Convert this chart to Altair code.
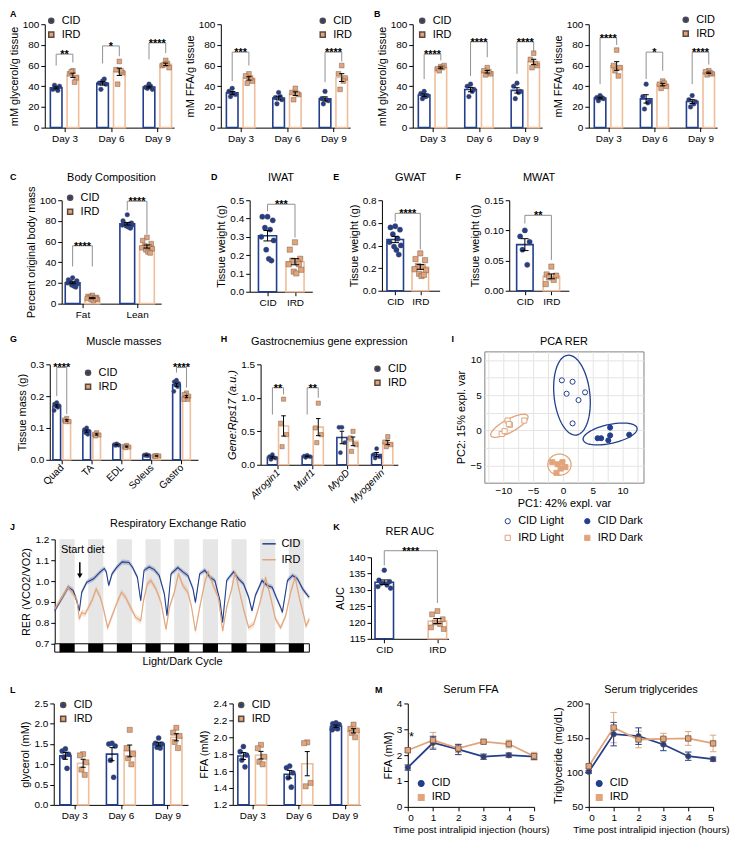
import altair as alt
import numpy as np
import pandas as pd

FONT = "Liberation Sans"
FS = 10
NAVY = "#233F8C"
TAN = "#E2A47A"
TAN_BAR = "#F0BE9A"
BRK = "#8F8F8F"
GROUPS = ["CID", "IRD"]
DAYS = ["Day 3", "Day 6", "Day 9"]

# ---------------- data ----------------
A_gly_cid = [[38, 37, 40, 41, 36], [45, 43, 42, 37, 47], [42, 39, 37, 38, 40]]
A_gly_ird = [[55, 52, 48, 54, 44], [64, 56, 53, 42, 55], [65, 60, 58, 61, 62]]
A_gly_sig = [(0, 71, 60, 63, "**"), (1, 79, 62, 69, "*"), (2, 82, 66, 72, "****")]
A_ffa_cid = [[38, 35, 32, 30, 33], [34, 29, 27, 23, 30], [35, 28, 26, 23, 27]]
A_ffa_ird = [[52, 50, 45, 43, 48], [38, 34, 32, 27, 33], [60, 52, 48, 37, 45]]
A_ffa_sig = [(0, 73, 45, 60, "***"), (2, 73, 44, 64, "****")]

B_gly_cid = [[35, 33, 31, 28, 30], [42, 40, 37, 30, 35], [43, 40, 35, 28, 34]]
B_gly_ird = [[59, 57, 60, 55, 58], [58, 55, 52, 51, 54], [72, 66, 60, 58, 62]]
B_gly_sig = [(0, 71, 47, 65, "****"), (1, 83, 50, 68, "****"), (2, 83, 52, 73, "****")]
B_ffa_cid = [[31, 29, 28, 26, 29], [42, 30, 25, 18, 24], [31, 27, 25, 20, 23]]
B_ffa_ird = [[75, 60, 58, 55, 50], [45, 42, 40, 38, 43], [55, 54, 52, 51, 53]]
B_ffa_sig = [(0, 87, 42, 80, "****"), (1, 73, 47, 55, "*"), (2, 73, 42, 61, "****")]

C_names = ["Fat", "Lean"]
C_cid = [[25, 23, 22, 21, 20, 20, 19, 18, 17, 16], [86, 80, 78, 77, 77, 76, 76, 75, 74, 73]]
C_ird = [[8, 7, 6, 6, 5, 5, 4, 4, 3, 5], [64, 61, 58, 56, 55, 54, 53, 52, 50, 49]]
C_sig = [(0, 56, 36, 36, "****"), (1, 99, 90, 67, "****")]

D_cid = [0.41, 0.41, 0.39, 0.35, 0.34, 0.30, 0.28, 0.23, 0.18, 0.17]
D_ird = [0.27, 0.23, 0.18, 0.17, 0.16, 0.15, 0.12, 0.11, 0.10, 0.15]
D_sig = [(0, 0.478, 0.44, 0.296, "***")]
E_cid = [0.57, 0.56, 0.54, 0.50, 0.46, 0.43, 0.40, 0.39, 0.36, 0.32]
E_ird = [0.33, 0.28, 0.27, 0.22, 0.21, 0.19, 0.18, 0.15, 0.13, 0.14]
E_sig = [(0, 0.684, 0.61, 0.364, "****")]
F_cid = [0.100, 0.090, 0.081, 0.068, 0.043]
F_ird = [0.040, 0.027, 0.025, 0.022, 0.018, 0.011]
F_sig = [(0, 0.125, 0.1115, 0.051, "**")]

G_names = ["Quad", "TA", "EDL", "Soleus", "Gastro"]
G_cid = [[0.18, 0.175, 0.17, 0.17, 0.165, 0.155], [0.10, 0.095, 0.09, 0.085, 0.08],
         [0.05, 0.048, 0.046, 0.045, 0.047], [0.016, 0.015, 0.014, 0.014, 0.013],
         [0.25, 0.245, 0.24, 0.235, 0.23, 0.215]]
G_ird = [[0.13, 0.125, 0.12, 0.12], [0.085, 0.08, 0.078, 0.075], [0.045, 0.042, 0.04, 0.038],
         [0.013, 0.012, 0.012, 0.011], [0.21, 0.205, 0.2, 0.195, 0.19, 0.19]]
G_sig = [(0, 0.29, 0.2, 0.144, "****"), (4, 0.29, 0.274, 0.227, "****")]

H_names = ["Atrogin1", "Murf1", "MyoD", "Myogenin"]
H_cid = [[0.15, 0.12, 0.10, 0.08], [0.14, 0.13, 0.12, 0.11], [0.56, 0.56, 0.33, 0.18], [0.24, 0.15, 0.12, 0.10]]
H_ird = [[0.98, 0.62, 0.45, 0.27], [0.92, 0.55, 0.45, 0.33], [0.50, 0.40, 0.30, 0.20], [0.42, 0.34, 0.30, 0.27]]
H_sig = [(0, 1.15, 0.75, 1.05, "**"), (1, 1.15, 0.75, 1.0, "**")]

I_groups = ["CID Light", "IRD Light", "CID Dark", "IRD Dark"]
I_pc1 = {"CID Light": [-0.2, 1.6, 0.6, 2.6, 3.7, 1.6],
         "CID Dark": [5.8, 6.4, 7.6, 7.9, 7.9, 11.1],
         "IRD Light": [-10.3, -9.8, -9.3, -8.9, -6.5, -9.1],
         "IRD Dark": [-1.8, -0.9, -0.1, 0.4, -0.4, -1.1]}
I_pc2 = {"CID Light": [7.1, 6.9, 5.2, 4.3, 5.4, 1.0],
         "CID Dark": [-1.1, -1.1, -1.4, 0.4, -0.7, -0.6],
         "IRD Light": [-0.5, -0.1, 1.4, 0.8, 1.4, 0.9],
         "IRD Dark": [-4.5, -4.8, -4.5, -5.2, -5.4, -6.0]}
# ellipse: centre x, centre y, semi-major, semi-minor, angle (deg)
I_ellipse = {"CID Light": (1.5, 5.0, 5.7, 3.0, 98), "CID Dark": (7.9, -0.5, 4.6, 1.35, 10),
             "IRD Light": (-9.0, 0.66, 3.4, 0.95, 24), "IRD Dark": (-0.6, -4.85, 1.95, 1.5, 0)}

J_cid_t = [0, 11.3, 15.5, 18.4, 20.6, 22.6, 26.8, 32.5, 38.1, 41.5, 43.2, 45.2, 48.0, 52.2, 56.5, 62.1,
           65.0, 69.2, 72.0, 74.8, 79.1, 83.3, 87.5, 91.8, 94.0, 97.4, 103.1, 107.3, 111.5, 115.8, 117.8,
           121.4, 125.7, 129.9, 134.1, 138.4, 140.6, 144.0, 149.7, 153.9, 158.1, 162.4, 165.2, 168.0,
           173.6, 177.9, 182.1, 185.5, 189.2, 190.6, 194.9, 199.1, 203.3, 207.6, 211.8, 213.2]
J_cid = [0.858, 0.971, 0.955, 0.906, 0.858, 0.947, 0.995, 1.011, 1.044, 1.060, 1.044, 0.979, 1.035, 1.068,
         1.092, 1.089, 1.068, 1.019, 0.906, 1.052, 1.068, 1.055, 1.027, 0.939, 0.834, 1.035, 1.065, 1.044,
         1.027, 0.963, 0.898, 1.035, 1.052, 1.019, 1.003, 0.906, 0.802, 1.003, 1.044, 1.011, 0.987, 0.923,
         0.858, 0.931, 1.003, 0.979, 0.971, 0.923, 0.874, 0.850, 1.003, 1.027, 1.011, 0.963, 0.931, 0.923]
J_ird_t = [0, 11.3, 18.4, 20.6, 22.6, 25.4, 28.2, 31.1, 34.7, 38.1, 40.9, 44.3, 48.0, 52.2, 55.9, 59.3,
           63.5, 67.8, 72.0, 74.3, 77.6, 80.5, 84.7, 89.0, 93.2, 96.0, 100.2, 103.6, 107.3, 111.5, 114.4,
           117.8, 121.4, 125.7, 128.5, 132.7, 137.0, 140.6, 144.0, 148.2, 151.1, 153.9, 158.1, 162.4,
           166.6, 170.8, 175.1, 176.5, 180.7, 184.9, 189.2, 193.4, 197.6, 201.3, 204.7, 208.9, 210.4, 213.2]
J_ird = [0.866, 0.971, 0.915, 0.818, 0.850, 0.842, 0.874, 0.906, 0.963, 0.923, 0.866, 0.777, 0.834, 0.898,
         0.947, 0.923, 0.874, 0.826, 0.810, 0.906, 0.987, 1.003, 0.963, 0.898, 0.769, 0.874, 0.947, 1.035,
         0.979, 0.947, 0.882, 0.761, 0.874, 0.995, 1.044, 0.979, 0.923, 0.761, 0.874, 0.963, 1.044, 0.971,
         0.866, 0.777, 0.794, 0.874, 0.971, 1.019, 0.923, 0.818, 0.777, 0.834, 0.947, 1.019, 0.923, 0.826,
         0.785, 0.818]
J_sem = {"CID": 0.012, "IRD": 0.015}
J_ticks = [0.7, 0.8, 0.9, 1.0, 1.1, 1.2]
J_dark_start = [4, 28, 52, 76, 100, 124, 148, 172, 196]
J_dark_end = [16.7, 40.7, 64.7, 88.7, 112.7, 136.7, 160.7, 184.7, 208.7]
J_end = 213.2
J_diet_t = 21

K_cid = [136, 133, 132.5, 132, 131.5, 131, 130.5]
K_ird = [123.5, 122.5, 121, 120, 119.5, 118.5, 118]
K_sig = [(0, 142, 137.5, 126, "****")]

L_gly_cid = [[1.38, 1.33, 1.25, 1.18, 0.9], [1.52, 1.5, 1.45, 1.1, 0.68], [1.65, 1.52, 1.5, 1.42, 1.4]]
L_gly_ird = [[1.25, 1.22, 1.05, 0.87, 0.74], [1.85, 1.4, 1.25, 1.15, 1.0], [1.9, 1.78, 1.7, 1.55, 1.4]]
L_ffa_cid = [[1.89, 1.83, 1.79, 1.73, 1.65], [1.66, 1.64, 1.58, 1.52, 1.41], [2.17, 2.16, 2.15, 2.11, 2.10, 2.09]]
L_ffa_ird = [[1.91, 1.87, 1.77, 1.71, 1.68], [1.94, 1.93, 1.46, 1.42], [2.15, 2.1, 2.08, 2.05, 2.0]]

M_t = [0, 1, 2, 3, 4, 5]
M_ffa = {"CID": [1.52, 2.48, 2.22, 1.94, 2.0, 1.94], "IRD": [2.19, 2.58, 2.26, 2.52, 2.43, 1.96]}
M_ffa_err = {"CID": [0.1, 0.25, 0.2, 0.1, 0.08, 0.1], "IRD": [0.08, 0.3, 0.15, 0.08, 0.15, 0.15]}
M_tg = {"CID": [100.8, 155.5, 152.6, 140.5, 123.5, 119.2], "IRD": [109, 165, 147.7, 148.7, 149.2, 142]}
M_tg_err = {"CID": [2, 17, 12, 9, 6, 3], "IRD": [3, 22, 12, 8, 10, 12]}

# ---------------- helpers ----------------
JIT = [0.0, -0.8, 0.8, -0.4, 0.4, -0.95, 0.95, -0.2, 0.2, 0.6]
COLOR_SC = alt.Scale(domain=GROUPS, range=[NAVY, TAN])
SHAPE_SC = alt.Scale(domain=GROUPS, range=["circle", "square"])
IND = dict(color="independent", shape="independent", fill="independent", stroke="independent")


def leg(x, y, **kw):
    base = dict(orient="none", legendX=x, legendY=y, title=None, labelFontSize=FS + 1, symbolSize=26,
                rowPadding=1, padding=0, labelOffset=5)
    base.update(kw)
    return alt.Legend(**base)


def text_layer(txt, x, y, align="left", baseline="top", size=9, bold=True, color="black"):
    return alt.Chart(pd.DataFrame({"t": [txt]})).mark_text(
        align=align, baseline=baseline, fontWeight="bold" if bold else "normal", fontSize=size, color=color
    ).encode(text="t:N", x=alt.value(x), y=alt.value(y))


def extras(letter, letter_xy, title, title_xy, lmark, tmark, xoff, yoff):
    out = []
    if letter:
        out.append(text_layer(letter, letter_xy[0] + xoff, letter_xy[1] + yoff))
    if title:
        out.append(text_layer(title, title_xy[0] + xoff, title_xy[1] + yoff, align="center",
                              baseline="middle", size=FS + 1, bold=False))
    if lmark is not None:   # invisible marker fixing the panel's left edge
        out.append(text_layer(".", lmark + xoff, yoff, color="white"))
    if tmark is not None:   # invisible marker fixing the row's top edge
        out.append(text_layer(".", letter_xy[0] + xoff + 14, tmark + yoff, color="white"))
    return out


def bar_panel(names, cid, ird, width, height, xdom, ydom, yvals, ytitle, half, off=0.18, sigs=(),
              legend_xy=None, title=None, title_y=-22, letter=None, letter_xy=(-38, -15),
              label_angle=0, italic=False, ybase=0.0, yfmt=None, pt_size=22, grouped=True,
              ytitle_italic=False, xoff=0, yoff=0, lmark=None, tmark=None):
    rows, summ = [], []
    n = len(names)
    for i in range(n):
        for g, src in (("CID", cid), ("IRD", ird)):
            if grouped:
                vals = src[i]
                cx = i + (-off if g == "CID" else off)
            else:
                if (g == "CID") != (i == 0):
                    continue
                vals = src
                cx = i
            for j, v in enumerate(vals):
                rows.append(dict(group=g, xp=cx + JIT[j % len(JIT)] * half * 0.72, val=v))
            m = float(np.mean(vals))
            s = float(np.std(vals, ddof=1) / np.sqrt(len(vals)))
            summ.append(dict(group=g, x=cx, x1=cx - half, x2=cx + half, mean=m, lo=m - s, hi=m + s,
                             c1=cx - half * 0.45, c2=cx + half * 0.45))
    pts_df = pd.DataFrame(rows)
    sum_df = pd.DataFrame(summ)

    arr = "[" + ",".join("'" + nm + "'" for nm in names) + "]"
    xkw = dict(values=list(range(n)), labelExpr=f"{arr}[round(datum.value)]", title=None,
               labelAngle=label_angle, labelPadding=2, labelOverlap=False)
    if label_angle:
        xkw.update(labelAlign="right", labelBaseline="middle")
    if italic:
        xkw.update(labelFontStyle="italic")
    xax = alt.Axis(**xkw)
    ykw = dict(values=yvals, title=ytitle, titlePadding=3, labelPadding=2, labelOverlap=False)
    if yfmt:
        ykw["format"] = yfmt
    if ytitle_italic:
        ykw["titleFontStyle"] = "italic"
    if xoff:
        ykw["offset"] = -xoff
    yax = alt.Axis(**ykw)
    xsc = alt.Scale(domain=xdom, nice=False, zero=False, range=[xoff, xoff + width])
    ysc = alt.Scale(domain=ydom, nice=False, zero=False, range=[height + yoff, yoff])
    legend = leg(legend_xy[0] + xoff, legend_xy[1] + yoff) if legend_xy else None

    layers = []
    for gname, colr in (("CID", NAVY), ("IRD", TAN_BAR)):
        layers.append(alt.Chart(sum_df[sum_df.group == gname]).mark_bar(
            fill="white", stroke=colr, strokeWidth=1.6).encode(
            x=alt.X("x1:Q", scale=xsc, axis=xax), x2="x2:Q",
            y=alt.Y("mean:Q", scale=ysc, axis=yax), y2=alt.datum(ybase)))
    layers.append(alt.Chart(pts_df).mark_point(filled=True, size=pt_size, opacity=1, stroke="#5a4a40",
                                               strokeWidth=0.4).encode(
        x=alt.X("xp:Q", scale=xsc, axis=xax), y=alt.Y("val:Q", scale=ysc, axis=yax),
        color=alt.Color("group:N", scale=COLOR_SC, legend=legend),
        shape=alt.Shape("group:N", scale=SHAPE_SC, legend=legend)))
    layers += [
        alt.Chart(sum_df).mark_rule(color="black", strokeWidth=1).encode(
            x=alt.X("x:Q", scale=xsc, axis=xax), y=alt.Y("lo:Q", scale=ysc, axis=yax), y2="hi:Q"),
        alt.Chart(sum_df).mark_rule(color="black", strokeWidth=1).encode(
            x=alt.X("c1:Q", scale=xsc, axis=xax), x2="c2:Q", y=alt.Y("hi:Q", scale=ysc, axis=yax)),
        alt.Chart(sum_df).mark_rule(color="black", strokeWidth=1).encode(
            x=alt.X("c1:Q", scale=xsc, axis=xax), x2="c2:Q", y=alt.Y("lo:Q", scale=ysc, axis=yax)),
    ]
    if sigs:
        srows = []
        for (i, top, le, re, lab) in sigs:
            x1 = i - off if grouped else 0
            x2 = i + off if grouped else 1
            srows.append(dict(x1=x1, x2=x2, xm=(x1 + x2) / 2, top=top, le=le, re=re, lab=lab))
        sdf = pd.DataFrame(srows)
        layers += [
            alt.Chart(sdf).mark_rule(color=BRK, strokeWidth=1).encode(
                x=alt.X("x1:Q", scale=xsc, axis=xax), x2="x2:Q", y=alt.Y("top:Q", scale=ysc, axis=yax)),
            alt.Chart(sdf).mark_rule(color=BRK, strokeWidth=1).encode(
                x=alt.X("x1:Q", scale=xsc, axis=xax), y=alt.Y("top:Q", scale=ysc, axis=yax), y2="le:Q"),
            alt.Chart(sdf).mark_rule(color=BRK, strokeWidth=1).encode(
                x=alt.X("x2:Q", scale=xsc, axis=xax), y=alt.Y("top:Q", scale=ysc, axis=yax), y2="re:Q"),
            alt.Chart(sdf).mark_text(baseline="alphabetic", dy=4, fontSize=11, fontWeight="bold",
                                     color="black").encode(
                x=alt.X("xm:Q", scale=xsc, axis=xax), y=alt.Y("top:Q", scale=ysc, axis=yax), text="lab:N"),
        ]
    layers += extras(letter, letter_xy, title, (width / 2, title_y), lmark, tmark, xoff, yoff)
    return alt.layer(*layers).properties(width=width + xoff, height=height + yoff)


def cc(items, columns, spacing=0):
    return alt.concat(*items, columns=columns, spacing=spacing, align="none").resolve_scale(
        **IND).resolve_legend(**IND)


# ---------------- row 1 ----------------
pct = [0, 20, 40, 60, 80, 100]
a1 = bar_panel(DAYS, A_gly_cid, A_gly_ird, 130, 104, [-0.425, 2.36], [0, 100], pct, "mM glycerol/g tissue",
               0.125, sigs=A_gly_sig, legend_xy=(1, -9), letter="A", letter_xy=(-35, -14))
a2 = bar_panel(DAYS, A_ffa_cid, A_ffa_ird, 130, 104, [-0.425, 2.36], [0, 100], pct, "mM FFA/g tissue",
               0.125, sigs=A_ffa_sig, legend_xy=(97, -9), lmark=-47)
b1 = bar_panel(DAYS, B_gly_cid, B_gly_ird, 130, 104, [-0.425, 2.36], [0, 100], pct, "mM glycerol/g tissue",
               0.125, sigs=B_gly_sig, legend_xy=(4, -9), letter="B", letter_xy=(-39, -14), lmark=-61)
b2 = bar_panel(DAYS, B_ffa_cid, B_ffa_ird, 129, 104, [-0.425, 2.36], [0, 100], pct, "mM FFA/g tissue",
               0.125, sigs=B_ffa_sig, legend_xy=(92, -10), lmark=-47)
row1 = cc([a1, a2, b1, b2], 4)

# ---------------- row 2 ----------------
c = bar_panel(C_names, C_cid, C_ird, 100, 104, [-0.38, 1.44], [0, 100], pct, "Percent original body mass",
              0.135, sigs=C_sig, legend_xy=(3, -8), title="Body Composition", title_y=-22,
              letter="C", letter_xy=(-52, -27), xoff=17, tmark=-42)
d = bar_panel(GROUPS, D_cid, D_ird, 63, 92, [-0.65, 1.63], [0, 0.5], [0, 0.1, 0.2, 0.3, 0.4, 0.5],
              "Tissue weight (g)", 0.33, sigs=D_sig, title="IWAT", title_y=-22, grouped=False,
              letter="D", letter_xy=(-39, -27), yfmt=".1f", pt_size=28, lmark=-89)
e = bar_panel(GROUPS, E_cid, E_ird, 58, 91, [-0.53, 1.77], [0, 0.8], [0, 0.2, 0.4, 0.6, 0.8],
              "Tissue weight (g)", 0.33, sigs=E_sig, title="GWAT", title_y=-22, grouped=False,
              letter="E", letter_xy=(-49, -27), yfmt=".1f", pt_size=28, lmark=-70)
f = bar_panel(GROUPS, F_cid, F_ird, 60, 91, [-0.59, 1.66], [0, 0.15], [0, 0.05, 0.1, 0.15],
              "Tissue weight (g)", 0.31, sigs=F_sig, title="MWAT", title_y=-22, grouped=False,
              letter="F", letter_xy=(-54, -27), yfmt=".2f", pt_size=28, lmark=-70)
row2 = cc([c, d, e, f], 4)

# ---------------- row 3/4 ----------------
g = bar_panel(G_names, G_cid, G_ird, 149, 96, [-0.4, 4.55], [0, 0.3], [0, 0.1, 0.2, 0.3], "Tissue mass (g)",
              0.128, off=0.167, sigs=G_sig, legend_xy=(33, 3), title="Muscle masses", title_y=-22,
              letter="G", letter_xy=(-40, -29), label_angle=-45, yfmt=".1f", pt_size=18, xoff=5, yoff=13)
h = bar_panel(H_names, H_cid, H_ird, 138, 101, [-0.5, 3.45], [0, 1.5], [0, 0.5, 1.0, 1.5],
              "Gene:Rps17 (a.u.)", 0.145, off=0.16, sigs=H_sig, legend_xy=(112, -1),
              title="Gastrocnemius gene expression", title_y=-22, letter="H", letter_xy=(-40, -29),
              label_angle=-45, italic=True, yfmt=".1f", pt_size=18, ytitle_italic=True, yoff=13, lmark=-63)

# PCA
prow = []
for grp in I_groups:
    for xv, yv in zip(I_pc1[grp], I_pc2[grp]):
        prow.append(dict(grp=grp, pc1=xv, pc2=yv))
i_pts = pd.DataFrame(prow)
erow = []
phi = np.linspace(0, 2 * np.pi, 121)
for grp, (cx, cy, a, b, ang) in I_ellipse.items():
    th = np.deg2rad(ang)
    xs = cx + a * np.cos(phi) * np.cos(th) - b * np.sin(phi) * np.sin(th)
    ys = cy + a * np.cos(phi) * np.sin(th) + b * np.sin(phi) * np.cos(th)
    for kk, (xv, yv) in enumerate(zip(xs, ys)):
        erow.append(dict(grp=grp, k=kk, pc1=xv, pc2=yv))
i_ell = pd.DataFrame(erow)
I_COL = alt.Scale(domain=I_groups, range=[NAVY, TAN, NAVY, TAN])
I_FILL = alt.Scale(domain=I_groups, range=["white", "white", NAVY, TAN])
I_SHAPE = alt.Scale(domain=I_groups, range=["circle", "square", "circle", "square"])
i_leg = leg(18, 165, columns=2, columnPadding=18, rowPadding=5, symbolSize=28, symbolStrokeWidth=1)
ixs = alt.Scale(domain=[-13.2, 13.5], nice=False, zero=False)
iys = alt.Scale(domain=[-7.4, 11.2], nice=False, zero=False)
grid_vals_x = [-12.5, -10, -7.5, -5, -2.5, 0, 2.5, 5, 7.5, 10, 12.5]
grid_vals_y = [-5, -2.5, 0, 2.5, 5, 7.5, 10]
ixa = alt.Axis(values=grid_vals_x, labelExpr="datum.value % 5 == 0 ? datum.label : ''", grid=True,
               gridColor="#E4E4E4", ticks=False, domain=False, title="PC1: 42% expl. var", titlePadding=2,
               labelPadding=3, labelOverlap=False)
iya = alt.Axis(values=grid_vals_y, labelExpr="datum.value % 5 == 0 ? datum.label : ''", grid=True,
               gridColor="#E4E4E4", ticks=False, domain=False, title="PC2: 15% expl. var", titlePadding=4,
               labelPadding=3, labelOverlap=False)
i_lines = alt.Chart(i_ell).mark_line(strokeWidth=1.3).encode(
    x=alt.X("pc1:Q", scale=ixs, axis=ixa), y=alt.Y("pc2:Q", scale=iys, axis=iya),
    color=alt.Color("grp:N", scale=I_COL, legend=i_leg), order="k:Q", detail="grp:N")
i_points = alt.Chart(i_pts).mark_point(size=26, strokeWidth=1, opacity=1).encode(
    x=alt.X("pc1:Q", scale=ixs, axis=ixa), y=alt.Y("pc2:Q", scale=iys, axis=iya),
    color=alt.Color("grp:N", scale=I_COL, legend=i_leg),
    fill=alt.Fill("grp:N", scale=I_FILL, legend=i_leg),
    shape=alt.Shape("grp:N", scale=I_SHAPE, legend=i_leg))
i_chart = alt.layer(i_lines, i_points, *extras("I", (-33, -16), "PCA RER", (80, -9), -35, None, 0, 0)).properties(
    width=160, height=132, view=alt.ViewBackground(stroke="#808080", strokeWidth=1))

# RER time series (plot area shifted right by J_XOFF inside its view)
J_XOFF = 10
J_W = 256
j_lines_df = pd.concat([
    pd.DataFrame({"t": J_cid_t, "v": J_cid, "group": "CID"}),
    pd.DataFrame({"t": J_ird_t, "v": J_ird, "group": "IRD"})])
j_lines_df["lo"] = j_lines_df["v"] - j_lines_df["group"].map(J_sem)
j_lines_df["hi"] = j_lines_df["v"] + j_lines_df["group"].map(J_sem)
dark_df = pd.DataFrame({"s": J_dark_start, "e": J_dark_end, "top": 1.2, "base": 0.7, "low": 0.66})
strip_df = pd.DataFrame({"s": [0], "e": [J_end], "base": [0.7], "low": [0.66]})
jxs = alt.Scale(domain=[0, J_end], nice=False, zero=False, range=[J_XOFF, J_XOFF + J_W])
jys = alt.Scale(domain=[0.7, 1.2], nice=False, zero=False)
jxa = alt.Axis(labels=False, ticks=False, domain=False, title="Light/Dark Cycle", titlePadding=12, grid=False)
jya = alt.Axis(values=J_ticks, format=".1f", title="RER (VCO2/VO2)", titlePadding=3,
               labelPadding=2, offset=-J_XOFF, labelOverlap=False)
JX = dict(scale=jxs, axis=jxa)
JY = dict(scale=jys, axis=jya)
j_bands = alt.Chart(dark_df).mark_rect(color="#E6E6E6").encode(
    x=alt.X("s:Q", **JX), x2="e:Q", y=alt.Y("base:Q", **JY), y2="top:Q")
j_strip = alt.Chart(strip_df).mark_rect(fill="white", stroke="black", strokeWidth=1).encode(
    x=alt.X("s:Q", **JX), x2="e:Q", y=alt.Y("base:Q", **JY), y2="low:Q")
j_strip_dark = alt.Chart(dark_df).mark_rect(color="black").encode(
    x=alt.X("s:Q", **JX), x2="e:Q", y=alt.Y("base:Q", **JY), y2="low:Q")
j_err_cid = alt.Chart(j_lines_df[j_lines_df.group == "CID"]).mark_area(color=NAVY, opacity=0.25).encode(
    x=alt.X("t:Q", **JX), y=alt.Y("lo:Q", **JY), y2="hi:Q")
j_err_ird = alt.Chart(j_lines_df[j_lines_df.group == "IRD"]).mark_area(color=TAN, opacity=0.3).encode(
    x=alt.X("t:Q", **JX), y=alt.Y("lo:Q", **JY), y2="hi:Q")
j_line = alt.Chart(j_lines_df).mark_line(strokeWidth=1.1).encode(
    x=alt.X("t:Q", **JX), y=alt.Y("v:Q", **JY),
    color=alt.Color("group:N", scale=COLOR_SC,
                    legend=leg(208 + J_XOFF, -3, symbolType="stroke", symbolSize=180, symbolStrokeWidth=1.5,
                               rowPadding=3)))
arrow_df = pd.DataFrame({"t": [J_diet_t], "y1": [1.09], "y2": [1.025], "txt": ["Start diet"]})
j_arrow = alt.Chart(arrow_df).mark_rule(color="black", strokeWidth=1.5).encode(
    x=alt.X("t:Q", **JX), y=alt.Y("y1:Q", **JY), y2="y2:Q")
j_head = alt.Chart(arrow_df).mark_point(shape="triangle-down", filled=True, color="black", size=30,
                                        opacity=1).encode(
    x=alt.X("t:Q", **JX), y=alt.Y("y2:Q", **JY))
j_txt = alt.Chart(arrow_df).mark_text(fontSize=FS + 1, dy=-12, dx=3, color="black").encode(
    x=alt.X("t:Q", **JX), y=alt.Y("y1:Q", **JY), text="txt:N")
j_chart = alt.layer(j_bands, j_strip, j_strip_dark, j_err_ird, j_err_cid, j_line, j_arrow, j_head, j_txt,
                    *extras("J", (-45, -16), "Respiratory Exchange Ratio", (124, -15), None, None, J_XOFF, 0)
                    ).properties(width=J_W + J_XOFF, height=105)

k = bar_panel(GROUPS, K_cid, K_ird, 78, 82, [-0.25, 1.21], [115, 140], [115, 120, 125, 130, 135, 140], "AUC",
              0.174, sigs=K_sig, title="RER AUC", title_y=-25, grouped=False, letter="K",
              letter_xy=(-38, -34), ybase=115, pt_size=24, yoff=18, lmark=-59)

left34 = cc([cc([g, h], 2), cc([j_chart, k], 2)], 1, spacing=13)
row34 = cc([left34, i_chart], 2)

# ---------------- row 5 ----------------
l1 = bar_panel(DAYS, L_gly_cid, L_gly_ird, 135, 102, [-0.44, 2.44], [0, 2.5], [0, 0.5, 1.0, 1.5, 2.0, 2.5],
               "glycerol (mM)", 0.12, off=0.19, legend_xy=(4, -4), letter="L", letter_xy=(-44, -18),
               yfmt=".1f", pt_size=26, xoff=9, tmark=-22)
l2 = bar_panel(DAYS, L_ffa_cid, L_ffa_ird, 128, 102, [-0.42, 2.33], [1.2, 2.4],
               [1.2, 1.4, 1.6, 1.8, 2.0, 2.2, 2.4], "FFA (mM)", 0.12, off=0.19, legend_xy=(3, -4),
               ybase=1.2, yfmt=".1f", pt_size=26, lmark=-45)


def line_panel(vals, errs, ydom, yvals, ytitle, title, width, leg_xy, letter=None, lmark=None, star=None):
    rows = []
    for gname in GROUPS:
        for t, v, e in zip(M_t, vals[gname], errs[gname]):
            rows.append(dict(group=gname, t=t, v=v, lo=v - e, hi=v + e, c1=t - 0.13, c2=t + 0.13))
    df = pd.DataFrame(rows)
    xs = alt.Scale(domain=[0, 5], nice=False, zero=False)
    ys = alt.Scale(domain=ydom, nice=False, zero=False)
    xa = alt.Axis(values=M_t, title="Time post intralipid injection (hours)", titlePadding=2, labelPadding=2,
                  titleFontSize=FS)
    ya = alt.Axis(values=yvals, title=ytitle, titlePadding=3, labelPadding=2, labelOverlap=False)
    lg = leg(leg_xy[0], leg_xy[1], symbolSize=34, symbolStrokeWidth=1.2, rowPadding=2)
    layers = []
    for gname, colr in (("IRD", TAN), ("CID", NAVY)):
        sub = df[df.group == gname]
        layers += [
            alt.Chart(sub).mark_rule(color=colr, strokeWidth=1).encode(
                x=alt.X("t:Q", scale=xs, axis=xa), y=alt.Y("lo:Q", scale=ys, axis=ya), y2="hi:Q"),
            alt.Chart(sub).mark_rule(color=colr, strokeWidth=1).encode(
                x=alt.X("c1:Q", scale=xs, axis=xa), x2="c2:Q", y=alt.Y("hi:Q", scale=ys, axis=ya)),
            alt.Chart(sub).mark_rule(color=colr, strokeWidth=1).encode(
                x=alt.X("c1:Q", scale=xs, axis=xa), x2="c2:Q", y=alt.Y("lo:Q", scale=ys, axis=ya)),
        ]
    layers.append(alt.Chart(df).mark_line(strokeWidth=1.8).encode(
        x=alt.X("t:Q", scale=xs, axis=xa), y=alt.Y("v:Q", scale=ys, axis=ya),
        color=alt.Color("group:N", scale=COLOR_SC, legend=lg), detail="group:N"))
    layers.append(alt.Chart(df).mark_point(filled=True, size=30, opacity=1, strokeWidth=0.8,
                                           stroke="#6b5240").encode(
        x=alt.X("t:Q", scale=xs, axis=xa), y=alt.Y("v:Q", scale=ys, axis=ya),
        color=alt.Color("group:N", scale=COLOR_SC, legend=lg),
        shape=alt.Shape("group:N", scale=SHAPE_SC, legend=lg)))
    if star:
        layers.append(alt.Chart(pd.DataFrame({"t": [star[0]], "v": [star[1]], "s": ["*"]})).mark_text(
            fontSize=13, color="black").encode(
            x=alt.X("t:Q", scale=xs, axis=xa), y=alt.Y("v:Q", scale=ys, axis=ya), text="s:N"))
    layers += extras(letter, (-33, -18), title, (width / 2, -13), lmark, None, 0, 0)
    return alt.layer(*layers).properties(width=width, height=104)


m1 = line_panel(M_ffa, M_ffa_err, [0, 4], [0, 1, 2, 3, 4], "FFA (mM)", "Serum FFA", 127, (8, 75), letter="M",
                lmark=-47, star=(0.15, 2.72))
m2 = line_panel(M_tg, M_tg_err, [50, 200], [50, 100, 150, 200], "Triglyceride (mg/dL)", "Serum triglycerides",
                125, (5, 75), lmark=-39)
row5 = cc([l1, l2, m1, m2], 4)

chart = cc([row1, row2, row34, row5], 1, spacing=15).properties(
    padding={"left": 0, "top": 0, "right": 0, "bottom": 0}
).configure(font=FONT).configure_view(stroke=None).configure_axis(
    domainColor="black", tickColor="black", labelColor="black", titleColor="black", labelFontSize=FS,
    titleFontSize=FS + 1, titleFontWeight="normal", tickSize=4, domainWidth=1, grid=False, labelFont=FONT,
    titleFont=FONT, labelOverlap=False
).configure_legend(labelFont=FONT, labelColor="black")

chart.save("out.html", embed_options={"renderer": "svg", "actions": False})
